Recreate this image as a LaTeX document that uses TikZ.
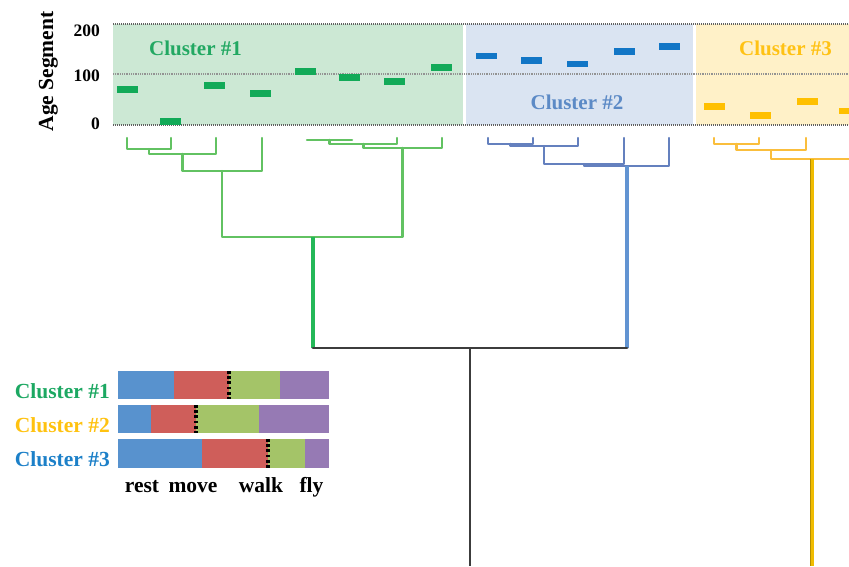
\documentclass[tikz,border=0pt]{standalone}
\usepackage{fontspec}
\setmainfont{Liberation Serif}
\definecolor{gReg}{RGB}{204,232,212}
\definecolor{bReg}{RGB}{218,228,242}
\definecolor{yReg}{RGB}{255,241,200}
\definecolor{gBar}{RGB}{18,170,88}
\definecolor{bBar}{RGB}{18,118,198}
\definecolor{yBar}{RGB}{255,192,0}
\definecolor{gTxt}{RGB}{34,168,98}
\definecolor{bTxt}{RGB}{92,138,198}
\definecolor{yTxt}{RGB}{255,194,20}
\definecolor{gLine}{RGB}{98,194,98}
\definecolor{bLine}{RGB}{100,128,190}
\definecolor{yLine}{RGB}{250,190,60}
\definecolor{gThick}{RGB}{36,184,88}
\definecolor{bThick}{RGB}{98,148,210}
\definecolor{yThick}{RGB}{240,188,0}
\definecolor{darkLine}{RGB}{60,60,60}
\definecolor{sBlue}{RGB}{88,146,206}
\definecolor{sRed}{RGB}{207,94,90}
\definecolor{sGreen}{RGB}{164,196,104}
\definecolor{sPurple}{RGB}{150,122,180}
\definecolor{lgTxt}{RGB}{28,168,98}
\definecolor{lyTxt}{RGB}{255,194,16}
\definecolor{lbTxt}{RGB}{28,128,200}
\tikzset{
  gridline/.style={draw=gray!75!black, line width=1.3pt, dash pattern=on 1pt off 1pt},
  agebar/.style={minimum width=21pt, minimum height=6.5pt, inner sep=0pt, draw=none},
  gl/.style={draw=gLine, line width=2.5pt, line cap=round, line join=round},
  bl/.style={draw=bLine, line width=2.5pt, line cap=round, line join=round},
  yl/.style={draw=yLine, line width=2.5pt, line cap=round, line join=round},
  clusterlbl/.style={font=\bfseries\fontsize{21}{24}\selectfont, inner sep=0pt},
  legendlbl/.style={font=\bfseries\fontsize{21.5}{24}\selectfont, inner sep=0pt, anchor=east},
  actlbl/.style={font=\bfseries\fontsize{21.5}{24}\selectfont, inner sep=0pt, anchor=base},
  axlbl/.style={font=\bfseries\fontsize{17.5}{20}\selectfont, inner sep=0pt, anchor=east},
  sepdots/.style={line width=3.2pt, dash pattern=on 2.8pt off 2.4pt}
}
\begin{document}
\begin{tikzpicture}[x=1pt,y=-1pt]
\useasboundingbox (0,0) rectangle (849,566);
\begin{scope}
\clip (0,0) rectangle (849,566);
% regions
\fill[gReg] (113,24) rectangle (462.5,125);
\fill[bReg] (465.5,24) rectangle (692.5,125);
\fill[yReg] (695.5,24) rectangle (849,125);
% grid lines
\draw[gridline] (113,24) -- (849,24);
\draw[draw=gray!85, line width=1.1pt, dash pattern=on 1pt off 0.8pt] (113,74) -- (849,74);
\draw[gridline] (113,125) -- (849,125);
% axis labels
\node[axlbl] (t200) at (100,30.5) {200};
\node[axlbl] (t100) at (100,76) {100};
\node[axlbl] (t0) at (100,124) {0};
\node[font=\bfseries\fontsize{21.5}{24}\selectfont, rotate=90, inner sep=0pt] (ylab) at (48.5,71.5) {Age Segment};
% cluster labels
\node[clusterlbl, text=gTxt] (c1) at (195.5,48) {Cluster \#1};
\node[clusterlbl, text=bTxt] (c2) at (577,102) {Cluster \#2};
\node[clusterlbl, text=yTxt] (c3) at (785.5,48) {Cluster \#3};
% green bars
\foreach \x/\y [count=\i] in {127/89.5,170/121.5,214.5/85.5,260.5/93.5,305/71.5,349/77.5,394.5/81.5,441.5/67.5}
  \node[agebar, fill=gBar] (gb\i) at (\x,\y) {};
% blue bars
\foreach \x/\y [count=\i] in {486.5/56,531.5/60.5,577.5/64,624.5/51.5,669.5/46.5}
  \node[agebar, fill=bBar] (bb\i) at (\x,\y) {};
% yellow bars
\foreach \x/\y [count=\i] in {714.5/106.5,760/115.5,807/101.5,849/111}
  \node[agebar, fill=yBar] (yb\i) at (\x,\y) {};
% dendrogram coordinates
\coordinate (g1) at (127,138); \coordinate (g2) at (171,138);
\coordinate (g3) at (216,138); \coordinate (g4) at (262,138);
\coordinate (g5) at (307,140); \coordinate (g6) at (352,140);
\coordinate (g7) at (397,138); \coordinate (g8) at (442,138);
\coordinate (m12) at (149,149); \coordinate (m123) at (182.5,154);
\coordinate (mL) at (222,171); \coordinate (m56) at (329.5,140);
\coordinate (m567) at (363.5,144); \coordinate (mR) at (402.5,148);
\coordinate (mG) at (313,237);
\coordinate (b1) at (488,138); \coordinate (b2) at (533,138);
\coordinate (b3) at (578,138); \coordinate (b4) at (624,138);
\coordinate (b5) at (669,138);
\coordinate (n12) at (510.5,144); \coordinate (n123) at (544,146);
\coordinate (n1234) at (584,164); \coordinate (nB) at (627,166);
\coordinate (y1) at (714,138); \coordinate (y2) at (759,138);
\coordinate (y3) at (806,138); \coordinate (y4) at (853,138);
\coordinate (k12) at (736.5,144); \coordinate (k123) at (771,150);
\coordinate (kY) at (812,159);
\coordinate (root) at (470,348);
\coordinate (bottom) at (470,566);
% green tree
\draw[gl] (g1) |- (m12) -| (g2);
\draw[gl] (m12) |- (m123) -| (g3);
\draw[gl] (m123) |- (mL) -| (g4);
\draw[gl] (g5) -- (g6);
\draw[gl] (m56) |- (m567) -| (g7);
\draw[gl] (m567) |- (mR) -| (g8);
\draw[gl] (mL) |- (mG) -| (mR);
% blue tree
\draw[bl] (b1) |- (n12) -| (b2);
\draw[bl] (n12) |- (n123) -| (b3);
\draw[bl] (n123) |- (n1234) -| (b4);
\draw[bl] (n1234) |- (nB) -| (b5);
% yellow tree
\draw[yl] (y1) |- (k12) -| (y2);
\draw[yl] (k12) |- (k123) -| (y3);
\draw[yl] (k123) |- (kY) -| (y4);
% trunks
\draw[draw=gThick, line width=3.4pt] (mG) -- (mG |- root);
\draw[draw=bThick, line width=4pt] (nB) -- (nB |- root);
\draw[draw=darkLine, line width=2.8pt, line cap=round] (mG |- root) -- (nB |- root);
\draw[draw=darkLine, line width=2.6pt] (root) -- (bottom);
\draw[draw=yThick!75!black, line width=4.2pt] (kY) -- (kY |- bottom);
\draw[draw=yThick, line width=3pt] ([xshift=0.6pt]kY) -- ([xshift=0.6pt]kY |- bottom);
\end{scope}
% legend bars
\fill[sBlue] (118,371) rectangle (174,399);
\fill[sRed] (174,371) rectangle (229,399);
\fill[sGreen] (229,371) rectangle (280,399);
\fill[sPurple] (280,371) rectangle (329,399);
\draw[sepdots] (229,371) -- (229,399);
\fill[sBlue] (118,405) rectangle (151,433);
\fill[sRed] (151,405) rectangle (196,433);
\fill[sGreen] (196,405) rectangle (259,433);
\fill[sPurple] (259,405) rectangle (329,433);
\draw[sepdots] (196,405) -- (196,433);
\fill[sBlue] (118,439) rectangle (202,468);
\fill[sRed] (202,439) rectangle (268,468);
\fill[sGreen] (268,439) rectangle (305,468);
\fill[sPurple] (305,439) rectangle (329,468);
\draw[sepdots] (268,439) -- (268,468);
% legend labels
\node[legendlbl, text=lgTxt] (l1) at (110,391) {Cluster \#1};
\node[legendlbl, text=lyTxt] (l2) at (110,425) {Cluster \#2};
\node[legendlbl, text=lbTxt] (l3) at (110,459) {Cluster \#3};
\node[actlbl] (arest) at (142,492) {rest};
\node[actlbl] (amove) at (193,492) {move};
\node[actlbl] (awalk) at (261,492) {walk};
\node[actlbl] (afly) at (311.5,492) {fly};
\end{tikzpicture}
\end{document}
